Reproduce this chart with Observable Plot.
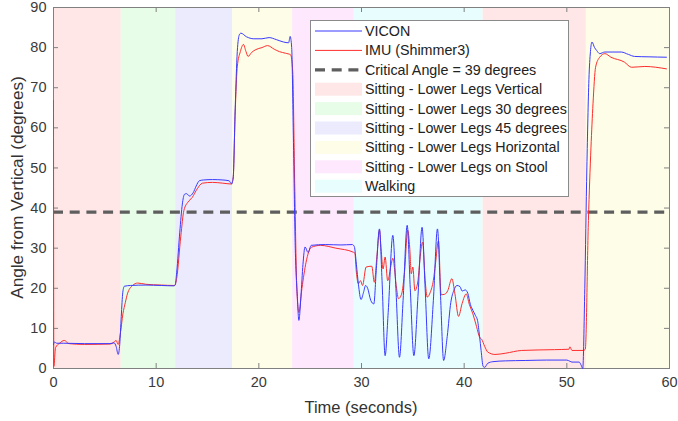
<!DOCTYPE html>
<html><head><meta charset="utf-8">
<script src="https://cdn.jsdelivr.net/npm/d3@7"></script>
<script src="https://cdn.jsdelivr.net/npm/@observablehq/plot@0.6"></script>
<style>body{margin:0;background:#fff}#chart{width:678px;height:421px}</style>
</head><body><div id="chart"></div>
<script>
// ---------- data ----------
const legendNames = ["VICON", "IMU (Shimmer3)", "Critical Angle = 39 degrees",
  "Sitting - Lower Legs Vertical", "Sitting - Lower Legs 30 degrees", "Sitting - Lower Legs 45 degrees",
  "Sitting - Lower Legs Horizontal", "Sitting - Lower Legs on Stool", "Walking"];
const phaseColors = ["#ffe7e7", "#e8fde8", "#ebebfd", "#fdfde8", "#fde8fd", "#e8fdfd"];
const bandStart = [0, 6.6, 11.9, 17.45, 23.3, 29.3, 41.85, 51.9];
const bandEnd   = [6.6, 11.9, 17.45, 23.3, 29.3, 41.85, 51.9, 60];
const bandPhase = [0, 1, 2, 3, 4, 5, 0, 3];
const criticalAngle = 39;
const xTicks = [0, 10, 20, 30, 40, 50, 60];
const yTicks = [0, 10, 20, 30, 40, 50, 60, 70, 80, 90];

const viconT = [0.0,0.1,0.3,1.0,3.0,5.5,5.9,6.1,6.3,6.45,6.6,6.75,6.9,7.5,9.0,10.5,11.7,11.85,12.0,12.3,12.55,12.75,12.95,13.25,13.6,13.9,14.2,14.6,15.5,16.5,17.1,17.35,17.5,17.7,17.9,18.1,18.25,18.8,19.5,20.3,21.0,21.7,22.4,22.9,23.05,23.2,23.35,23.55,23.75,23.9,24.1,24.3,24.5,24.8,25.1,26.5,28.0,29.1,29.3,29.5,29.7,29.95,30.2,30.4,30.6,30.9,31.2,31.45,31.75,32.0,32.3,32.6,33.05,33.35,33.7,34.05,34.45,34.75,35.1,35.5,35.9,36.2,36.55,37.0,37.4,37.7,38.0,38.35,38.7,39.0,39.3,39.6,39.8,40.1,40.35,40.6,40.85,41.1,41.3,41.5,41.65,41.85,42.0,42.3,42.8,44.0,46.0,48.0,50.0,50.3,50.5,51.2,51.4,51.55,51.75,51.95,52.15,52.3,52.45,52.7,52.9,53.2,53.7,55.3,56.0,56.6,58.0,59.7];
const viconV = [6.0,6.6,6.3,6.3,6.2,6.2,6.4,5.5,3.5,6.0,13,19,20.5,20.7,20.8,20.7,20.6,20.8,24,34,41,43.4,43.6,43.0,43.8,45.5,46.8,47.0,47.1,47.0,46.8,46.0,47.5,65,79,83.2,83.6,82.7,82.2,82.2,82.5,82.0,81.4,81.2,82.8,80,60,30,18,12,18,26,30.3,28.9,30.7,30.9,30.8,30.9,30.4,26,21,17.2,19,20.7,20,17,16.1,25,34.8,22,3.2,14,33.2,20,2.8,17,35.7,20,3.2,18,35.2,20,2.4,17,34.8,18,2.0,8,16.5,19.5,20.7,20.4,19.3,19.6,18.8,16,14.5,13.2,12.0,8,4.5,0.5,0.3,1.3,1.7,1.9,2.0,2.1,2.1,1.8,1.6,1.6,0.8,0.0,20,50,72,79,81.4,80,79.3,78.5,78.9,78.9,78.3,77.8,77.7,77.6];

const imuT = [0.0,0.03,0.2,0.6,1.05,1.5,3.0,5.5,5.9,6.1,6.3,6.5,6.76,7.0,7.2,7.7,8.2,9.0,10.5,11.8,12.0,12.4,12.7,13.1,13.5,14.0,14.5,15.5,16.5,17.3,17.5,17.7,17.9,18.2,18.5,18.75,18.95,19.3,19.7,20.3,20.85,21.5,22.0,22.6,23.1,23.3,23.5,23.7,23.9,24.2,24.6,25.1,26.0,27.5,29.2,29.35,29.5,29.7,29.9,30.1,30.45,31.0,31.25,31.5,31.75,31.9,32.1,32.3,32.55,32.9,33.05,33.4,33.6,33.9,34.2,34.5,34.7,34.85,35.0,35.2,35.5,35.65,35.95,36.2,36.4,36.7,37.0,37.2,37.5,37.75,38.1,38.4,38.8,39.1,39.45,39.8,40.2,40.5,40.85,41.2,41.5,41.7,42.0,42.3,43.0,44.0,45.6,48.8,50.2,50.3,50.5,51.6,51.8,52.1,52.35,52.55,52.8,53.2,53.7,54.3,55.6,56.3,57.6,59.7];
const imuV = [66.8,0.5,5.2,6.3,7.0,6.2,6.0,6.1,6.6,7.0,6.0,8.5,13.6,16.5,18.6,20.7,21.3,21.0,20.8,20.7,22.5,33,39.4,41.5,42.6,44.8,46.2,46.4,46.2,46.0,47.5,64,75.2,79,80.8,79,77.8,78.8,79.5,80.0,80.5,79.6,79.0,78.6,78.2,74,45,20,14,20,26.5,30.2,30.7,30.0,29.0,28.8,24,21.1,21.9,20.7,25.3,25.5,21.5,28,34.5,30,24.8,27.8,21.9,26.1,27.5,20.3,17.4,18.5,24.4,34.5,30,23.6,25.3,19.4,21.9,26.1,31.5,22,17.8,19,22,26,31.9,18.4,18.5,19.4,22.4,18.6,13.0,16.2,18.6,16,13.6,10.5,7.8,7.3,5.5,4.1,3.5,3.8,4.5,4.7,4.8,5.4,4.5,4.5,4.8,36.9,55,66,75.1,77.6,78.5,77.6,76.4,75.1,75.3,74.7];

const lineColors = ["#3a3aff", "#ff2d2d"];
const critColor = "#5e5e5e";

// ---------- build tables ----------
const bands = bandStart.map((s, i) => ({start: s, end: bandEnd[i], color: phaseColors[bandPhase[i]]}));
const vicon = viconT.map((t, i) => ({t, v: viconV[i]}));
const imu = imuT.map((t, i) => ({t, v: imuV[i]}));

const W = 678, H = 421, mL = 53, mR = 9, mT = 7, mB = 53;
const pw = W - mL - mR, ph = H - mT - mB;
const axisCol = "#808080";

const chart = Plot.plot({
  width: W, height: H, marginLeft: mL, marginRight: mR, marginTop: mT, marginBottom: mB,
  x: {domain: [0, 60]},
  y: {domain: [0, 90]},
  color: {type: "identity"},
  style: {fontFamily: "'Liberation Sans', Arial, sans-serif", fontSize: "14.5px", color: "#3a3a3a", background: "#fff", overflow: "visible"},
  marks: [
    Plot.rect(bands, {x1: "start", x2: "end", y1: () => 0, y2: () => 90, fill: "color"}),
    Plot.frame({stroke: axisCol, strokeWidth: 1}),
    Plot.ruleX(xTicks, {x: d => d, insetTop: ph - 5, stroke: axisCol}),
    Plot.ruleX(xTicks, {x: d => d, insetBottom: ph - 5, stroke: axisCol}),
    Plot.ruleY(yTicks, {y: d => d, insetRight: pw - 5, stroke: axisCol}),
    Plot.ruleY(yTicks, {y: d => d, insetLeft: pw - 5, stroke: axisCol}),
    Plot.ruleY([criticalAngle], {stroke: critColor, strokeWidth: 3.2, strokeDasharray: "10,6.7"}),
    Plot.line(imu, {x: "t", y: "v", stroke: lineColors[1], strokeWidth: 1, curve: "monotone-x"}),
    Plot.line(vicon, {x: "t", y: "v", stroke: lineColors[0], strokeWidth: 1, curve: "monotone-x"}),
    Plot.axisX({ticks: xTicks, tickSize: 0, tickPadding: 8, label: null}),
    Plot.axisY({ticks: yTicks, tickSize: 0, tickPadding: 7, label: null})
  ]
});
document.getElementById("chart").appendChild(chart);

const svg = d3.select(chart);
const font = "'Liberation Sans', Arial, sans-serif";
svg.append("text").attr("x", mL + pw / 2).attr("y", 413).attr("text-anchor", "middle")
  .attr("font-family", font).attr("font-size", 16.5).attr("fill", "#333").text("Time (seconds)");
svg.append("text").attr("transform", `translate(17,${mT + ph / 2}) rotate(-90)`).attr("text-anchor", "middle")
  .attr("dominant-baseline", "central").attr("font-family", font).attr("font-size", 17.2).attr("fill", "#333")
  .text("Angle from Vertical (degrees)");

// legend
const lg = svg.append("g").attr("text-anchor", "start");
lg.append("rect").attr("x", 310.5).attr("y", 20.5).attr("width", 258).attr("height", 176)
  .attr("fill", "#fff").attr("stroke", "#8a8a8a").attr("stroke-width", 1);
legendNames.forEach((name, i) => {
  const y = 31 + i * 19.4;
  if (i < 2) {
    lg.append("line").attr("x1", 315).attr("x2", 362).attr("y1", y).attr("y2", y)
      .attr("stroke", lineColors[i]).attr("stroke-width", 1);
  } else if (i === 2) {
    lg.append("line").attr("x1", 315).attr("x2", 362).attr("y1", y).attr("y2", y)
      .attr("stroke", critColor).attr("stroke-width", 3.2).attr("stroke-dasharray", "10,6.7");
  } else {
    lg.append("rect").attr("x", 315).attr("y", y - 6.5).attr("width", 47).attr("height", 13)
      .attr("fill", phaseColors[i - 3]);
  }
  lg.append("text").attr("x", 365).attr("y", y).attr("text-anchor", "start").attr("dominant-baseline", "central")
    .attr("font-family", font).attr("font-size", 14.3).attr("fill", "#222").text(name);
});
</script></body></html>
